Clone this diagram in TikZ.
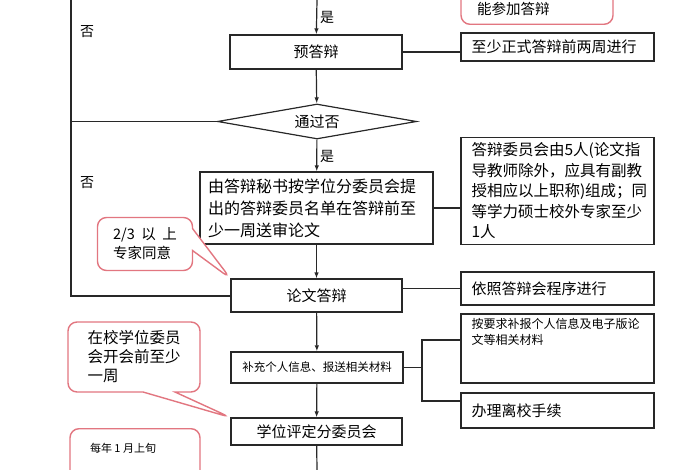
\documentclass[tikz,border=0pt]{standalone}
\usepackage{fontspec}
\setmainfont{Noto Sans CJK SC}
\usetikzlibrary{shapes.geometric,shapes.callouts,arrows.meta}
\definecolor{calloutpink}{RGB}{226,118,128}
\definecolor{linegray}{RGB}{40,40,40}

\tikzset{
  flowbox/.style={draw=linegray, line width=1.2pt, inner sep=0pt, fill=white,
    font=\fontsize{15}{20}\selectfont},
  notebox/.style={flowbox, minimum width=193pt, text width=172pt, align=left},
  callbox/.style={draw=calloutpink, line width=1.4pt, fill=white, rounded corners=9pt,
    font=\fontsize{14.5}{19}\selectfont},
  flowarrow/.style={-{Latex[length=6pt,width=4.5pt]}, linegray, line width=1.2pt},
  link/.style={linegray, line width=1.2pt},
  mark label/.style={font=\fontsize{14}{16}\selectfont, inner sep=0pt}
}

\begin{document}
\begin{tikzpicture}[x=1pt, y=-1pt]
    \useasboundingbox (0,0) rectangle (700,470);
    \clip (0,0) rectangle (700,470);

    % main column
    \node[flowbox, minimum width=172pt, minimum height=34pt] (prep) at (316,52) {预答辩};
    \node[flowbox, diamond, aspect=5.7, minimum width=199pt, minimum height=35pt] (pass) at (317,121.5) {通过否};
    \node[flowbox, minimum width=233pt, minimum height=72pt, text width=217pt, align=left,
      font=\fontsize{16}{22}\selectfont] (review) at (316.5,208)
      {由答辩秘书按学位分委员会提\\出的答辩委员名单在答辩前至\\少一周送审论文};
    \node[flowbox, minimum width=171pt, minimum height=33pt] (defense) at (316.5,295.5) {论文答辩};
    \node[flowbox, minimum width=172pt, minimum height=31pt,
      font=\fontsize{11.5}{14}\selectfont] (supply) at (317,367.5) {补充个人信息、报送相关材料};
    \node[flowbox, minimum width=171pt, minimum height=27pt] (council) at (316.5,431.5) {学位评定分委员会};

    % notes on the right
    \node[notebox, minimum height=28pt] (twoweeks) at (557.5,47) {至少正式答辩前两周进行};
    \node[notebox, minimum height=107pt, font=\fontsize{15.5}{20.5}\selectfont] (panel) at (557.5,191)
      {答辩委员会由5人(论文指\\导教师除外，应具有副教\\授相应以上职称)组成；同\\等学力硕士校外专家至少\\1人};
    \node[notebox, minimum height=33pt] (rules) at (557.5,288.5) {依照答辩会程序进行};
    \node[flowbox, minimum width=193pt, minimum height=69pt, font=\fontsize{12}{16}\selectfont] (upload) at (557.5,348.5)
      {\parbox[c][61pt][t]{172pt}{按要求补报个人信息及电子版论\\文等相关材料}};
    \node[notebox, minimum height=35pt] (leave) at (557.5,410.5) {办理离校手续};

    % callouts
    \node[callbox, anchor=south, minimum width=152pt, inner xsep=16pt, inner ysep=9pt] (entry) at (537,25)
      {\parbox[c][44pt][b]{120pt}{能参加答辩}};
    \node[callbox, rectangle callout, minimum width=95pt, minimum height=53pt, align=left,
      callout absolute pointer={(defense.north west)}, callout pointer width=22pt] (agree) at (145,244)
      {2/3 \ 以 \ 上\\专家同意};
    \node[callbox, rectangle callout, minimum width=132pt, minimum height=70pt, align=left,
      font=\fontsize{15.5}{19}\selectfont,
      callout absolute pointer={(council.north west)}, callout pointer width=32pt] (week) at (134,357)
      {在校学位委员\\会开会前至少\\一周};
    \node[callbox, anchor=north, minimum width=130pt, inner xsep=20pt, inner ysep=14pt,
      font=\fontsize{11}{14}\selectfont] (january) at (135,428)
      {\parbox[c][60pt][t]{90pt}{每年 1 月上旬}};

    % connectors
    \coordinate (topIn) at (317,0);
    \coordinate (bottomOut) at (317,470);
    \coordinate (loopTop) at (71,0);
    \coordinate (loopBot) at (71,296);
    \coordinate (forkTop) at (422,340);
    \coordinate (forkBot) at (422,401);

    \draw[flowarrow] (topIn) -- (prep);
    \draw[flowarrow] (prep) -- (pass);
    \draw[flowarrow] (pass) -- (review);
    \draw[flowarrow] (review) -- (defense);
    \draw[flowarrow] (defense) -- (supply);
    \draw[flowarrow] (supply) -- (council);
    \draw[link] (council) -- (bottomOut);

    \draw[link] (prep.east) -- (prep.east -| twoweeks.west);
    \draw[link] (review.east) -- (review.east -| panel.west);
    \draw[link] (rules.west) -- (rules.west -| defense.east);
    \draw[link] (supply.east) -- (supply.east -| forkTop);
    \draw[link] (forkTop -| upload.west) -- (forkTop) -- (forkBot) -- (forkBot -| leave.west);

    % loop back
    \draw[link] (loopTop) -- (loopBot) -- (loopBot -| defense.west);
    \draw[link] (pass.west) -- (pass.west -| loopTop);

    \node[mark label] (yes1) at (327,17) {是};
    \node[mark label] (yes2) at (327,156) {是};
    \node[mark label] (no1) at (87,32) {否};
    \node[mark label] (no2) at (87,183) {否};
\end{tikzpicture}
\end{document}
